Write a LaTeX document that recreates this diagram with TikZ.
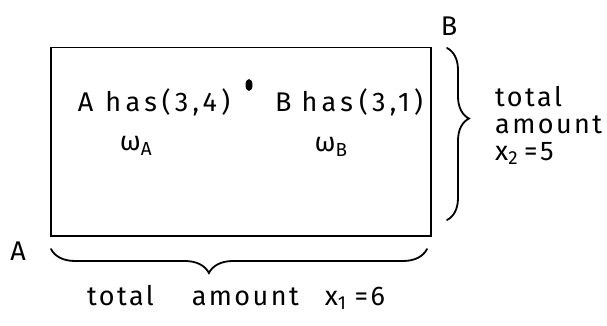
\documentclass[tikz,border=0pt]{standalone}
\usepackage{fontspec}
\setmainfont{Fira Sans}
\newfontfamily\handfont[LetterSpace=9]{Fira Sans}
\newfontfamily\handwide[LetterSpace=16]{Fira Sans}
\usetikzlibrary{decorations.pathreplacing,shapes.geometric}
\begin{document}
\begin{tikzpicture}[x=1pt,y=-1pt,
  hand/.style={font=\handfont\fontsize{27}{27}\selectfont, inner sep=0pt},
  handw/.style={font=\handwide\fontsize{27}{27}\selectfont, inner sep=0pt},
  bracestyle/.style={decorate, line width=1.8pt, line cap=round}]
\useasboundingbox (0,0) rectangle (607,326);
\node[draw, line width=1.5pt, minimum width=380pt, minimum height=188pt, anchor=north west, inner sep=0pt] (box) at (50,47) {};
\node[handw] (ahas) at (154,102) {A\hspace{12pt}has\hspace{5pt}(3,4)};
\node[hand] (wa) at (136,146) {ω\textsubscript{A}};
\node[handw] (bhas) at (349,102) {B\hspace{10pt}has\hspace{6pt}(3,1)};
\node[hand] (wb) at (331,147) {ω\textsubscript{B}};
\node[fill, ellipse, minimum width=7pt, minimum height=12pt, inner sep=0pt] (dot) at (249,85) {};
\node[hand] (A) at (18,251) {A};
\node[hand] (B) at (449,26) {B};
\coordinate (b1) at (51,249);
\coordinate (b2) at (427,249);
\draw[bracestyle, decoration={brace, mirror, amplitude=24pt, aspect=0.42}] (b1) -- (b2);
\coordinate (r1) at (447,48);
\coordinate (r2) at (447,220);
\draw[bracestyle, decoration={brace, amplitude=22pt, aspect=0.41}] (r1) -- (r2);
\node[hand] (bottom) at (236,297) {total\hspace{38pt}amount\hspace{26pt}x\textsubscript{1}\hspace{8pt}=6};
\node[hand, anchor=north west, align=left] (right) at (495,86) {total\\amount\\x\textsubscript{2}\hspace{6pt}=5};
\end{tikzpicture}
\end{document}
